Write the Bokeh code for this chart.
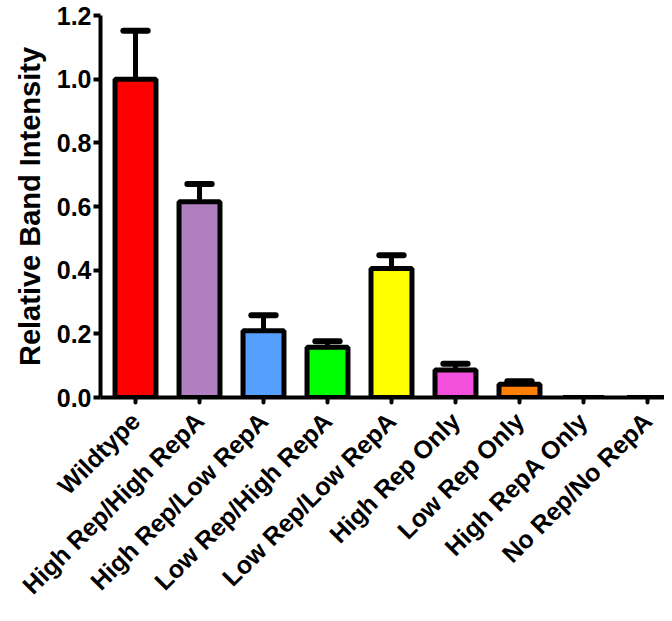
from math import pi
from bokeh.plotting import figure
from bokeh.models import Range1d, FixedTicker, ColumnDataSource
from bokeh.embed import file_html
from bokeh.resources import INLINE

categories = ["Wildtype", "High Rep/High RepA", "High Rep/Low RepA", "Low Rep/High RepA",
              "Low Rep/Low RepA", "High Rep Only", "Low Rep Only", "High RepA Only", "No Rep/No RepA"]
values = [1.0, 0.615, 0.21, 0.158, 0.405, 0.086, 0.042, 0.0, 0.0]
errors = [0.152, 0.056, 0.048, 0.019, 0.042, 0.020, 0.009, 0.0, 0.0]
colors = ["#FF0000", "#B07FC0", "#55A0FF", "#00FF00", "#FFFF00", "#F250DC", "#FF8000", "#FFFFFF", "#FFFFFF"]
y_ticks = [0.0, 0.2, 0.4, 0.6, 0.8, 1.0, 1.2]
y_tick_labels = ["0.0", "0.2", "0.4", "0.6", "0.8", "1.0", "1.2"]

xs = list(range(len(categories)))
FONT = "Liberation Sans"

p = figure(width=664, height=613, output_backend="svg", toolbar_location=None,
           x_range=Range1d(-0.547, 8.266), y_range=Range1d(0, 1.2),
           min_border_left=100, min_border_top=15, min_border_bottom=216, min_border_right=0)
p.outline_line_color = None
p.xgrid.visible = False
p.ygrid.visible = False
p.background_fill_color = "white"

src = ColumnDataSource(dict(x=xs, top=values, color=colors))
p.vbar(x="x", top="top", width=0.64, bottom=0, source=src, fill_color="color",
       line_color="black", line_width=5)

ex = [x for x, e in zip(xs, errors) if e > 0]
ey0 = [v for v, e in zip(values, errors) if e > 0]
ey1 = [v + e for v, e in zip(values, errors) if e > 0]
p.segment(x0=ex, x1=ex, y0=ey0, y1=ey1, line_color="black", line_width=5)
p.segment(x0=[x - 0.19 for x in ex], x1=[x + 0.19 for x in ex], y0=ey1, y1=ey1,
          line_color="black", line_width=6, line_cap="round")

# y axis
ya = p.yaxis[0]
ya.ticker = FixedTicker(ticks=y_ticks)
ya.major_label_overrides = {t: l for t, l in zip(y_ticks, y_tick_labels)}
ya.axis_label = "Relative Band Intensity"
ya.axis_label_text_font = FONT
ya.axis_label_text_font_style = "bold"
ya.axis_label_text_font_size = "29px"
ya.axis_label_text_color = "black"
ya.axis_label_standoff = 8
ya.major_label_text_font = FONT
ya.major_label_text_font_style = "bold"
ya.major_label_text_font_size = "25px"
ya.major_label_text_color = "black"
ya.major_label_standoff = 2
ya.axis_line_width = 4
ya.major_tick_line_width = 4
ya.major_tick_out = 7
ya.major_tick_in = 0
ya.minor_tick_line_color = None

# x axis
xa = p.xaxis[0]
xa.ticker = FixedTicker(ticks=xs)
xa.major_label_overrides = {x: c for x, c in zip(xs, categories)}
xa.major_label_orientation = pi / 4
xa.major_label_text_font = FONT
xa.major_label_text_font_style = "bold"
xa.major_label_text_font_size = "25px"
xa.major_label_text_color = "black"
xa.major_label_standoff = 14
xa.axis_line_width = 4
xa.major_tick_line_width = 4
xa.major_tick_line_cap = "round"
xa.major_tick_out = 5
xa.major_tick_in = 0
xa.minor_tick_line_color = None

open("out.html", "w").write(file_html(p, INLINE))
